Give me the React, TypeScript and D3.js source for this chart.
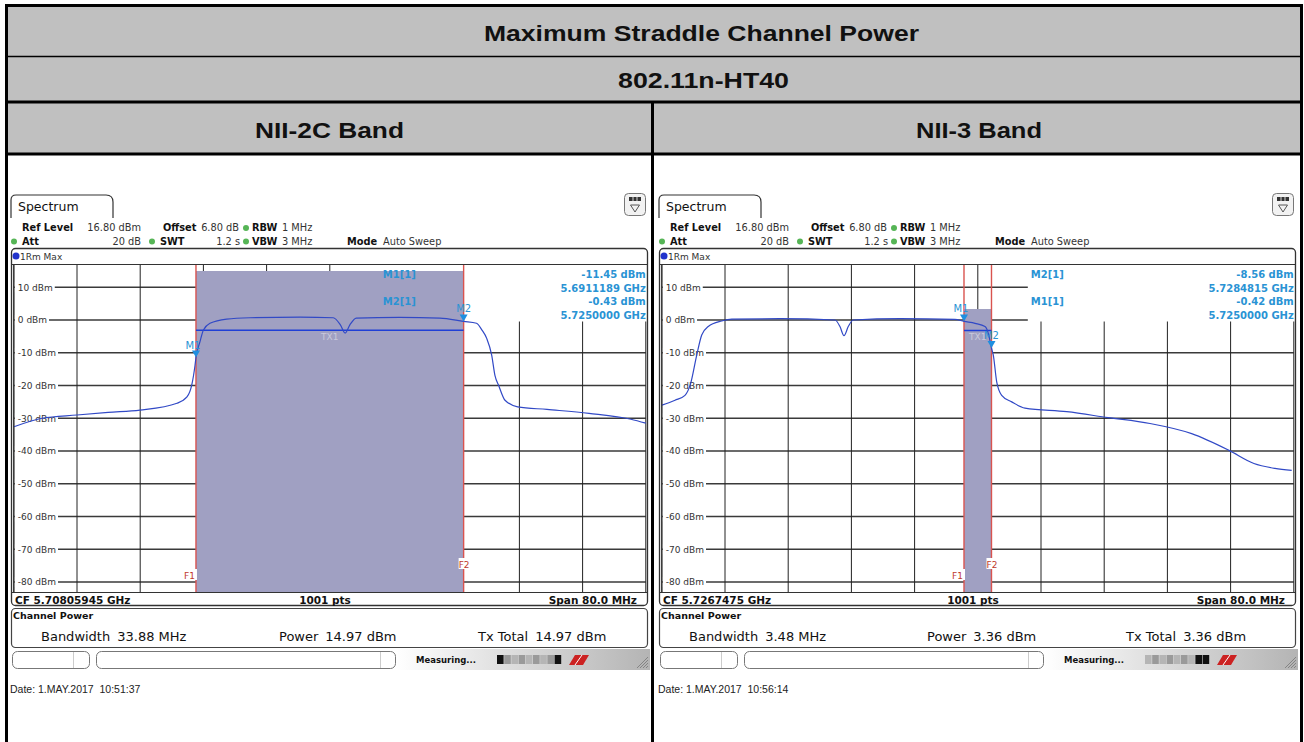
import React from 'react';
import * as d3 from 'd3';

// ---------- data ----------
const yTicks = [10, 0, -10, -20, -30, -40, -50, -60, -70, -80];
const refLevel = 16.8;
const bottomLevel = -83.2;
const spanMHz = 80;

const leftFreq = [5668.08, 5671.63, 5676.06, 5680.0, 5684.03, 5688.72, 5689.98, 5690.58, 5691.0, 5691.12, 5691.63, 5692.05, 5692.89, 5695.0, 5697.96, 5704.3, 5708.5, 5709.4, 5710.0, 5710.6, 5711.4, 5716.9, 5722.0, 5725.0, 5726.63, 5727.3, 5727.92, 5728.55, 5728.97, 5729.44, 5730.24, 5731.84, 5735.55, 5740.87, 5746.18, 5748.06];
const leftLevel = [-32.6, -30.0, -29.0, -28.2, -27.5, -25.4, -23.5, -19.9, -13.8, -11.45, -6.6, -3.1, -1.0, 0.3, 0.7, 0.9, 0.7, -1.5, -4.0, -1.5, 0.6, 0.8, 0.6, -0.43, -1.0, -3.0, -5.6, -10.7, -17, -20, -24.5, -26.5, -27.3, -28.5, -30.3, -31.5];

const rightFreq = [5686.75, 5688.42, 5689.68, 5690.38, 5691.17, 5691.8, 5692.63, 5694.33, 5695.6, 5701.71, 5708.67, 5709.3, 5709.81, 5710.35, 5710.98, 5716.9, 5723.86, 5725.0, 5726.4, 5727.66, 5728.07, 5728.48, 5728.71, 5729.14, 5729.77, 5731.04, 5732.72, 5738.0, 5743.23, 5748.54, 5753.82, 5758.54, 5761.7, 5764.36, 5766.48];
const rightLevel = [-26, -24.5, -23, -19.5, -10.7, -4.6, -2, -0.3, 0.3, 0.4, 0, -2, -4.8, -2, 0, 0.4, 0.2, -0.42, -1.0, -2.0, -4.0, -8.56, -10.7, -18.9, -23, -25, -26.9, -28, -29.8, -31.6, -34.7, -39.8, -43.8, -45.3, -45.9];

const leftMarkers = [
  { name: 'M1', f: 5691.1189, v: -11.45 },
  { name: 'M2', f: 5725.0, v: -0.43 },
];
const rightMarkers = [
  { name: 'M1', f: 5725.0, v: -0.42 },
  { name: 'M2', f: 5728.4815, v: -8.56 },
];
const leftInfoOrder = ['M1', 'M2'];
const rightInfoOrder = ['M2', 'M1'];

const titles = ['Maximum Straddle Channel Power', '802.11n-HT40'];
const bandTitles = ['NII-2C Band', 'NII-3 Band'];

const leftCfg = {
  offset: 0,
  cf: 5708.05945,
  cfText: 'CF 5.70805945 GHz',
  f1: 5691.1189,
  f2: 5725.0,
  power: 14.97,
  tx1: -3.1,
  markers: leftMarkers,
  infoOrder: leftInfoOrder,
  freq: leftFreq,
  level: leftLevel,
  bandwidth: '33.88 MHz',
  powerText: '14.97 dBm',
  txTotal: '14.97 dBm',
  date: 'Date: 1.MAY.2017  10:51:37',
  progress: [1, 0, 0, 0, 0, 0, 0, 0, 1],
};
const rightCfg = {
  offset: 648,
  cf: 5726.7475,
  cfText: 'CF 5.7267475 GHz',
  f1: 5725.0,
  f2: 5728.48,
  power: 3.36,
  tx1: -3.2,
  markers: rightMarkers,
  infoOrder: rightInfoOrder,
  freq: rightFreq,
  level: rightLevel,
  bandwidth: '3.48 MHz',
  powerText: '3.36 dBm',
  txTotal: '3.36 dBm',
  date: 'Date: 1.MAY.2017  10:56:14',
  progress: [0, 0, 0, 0, 0, 0, 0, 1, 1],
};

const SF = 'DejaVu Sans, Verdana, sans-serif';
const AF = 'Liberation Sans, Arial, sans-serif';
const MK = '#2a93d4';

const cw: Record<string, number> = { '0': .636, '1': .636, '2': .636, '3': .636, '4': .636, '5': .636, '6': .636, '7': .636, '8': .636, '9': .636, '-': .361, ' ': .318, d: .635, B: .686, m: .974 };
const textW = (s: string, fs: number) => s.split('').reduce((a, c) => a + (cw[c] || .6), 0) * fs;

function Panel({ cfg }: { cfg: typeof leftCfg }) {
  const ox = cfg.offset;
  const gx0 = 13.8 + ox, gx1 = 645.8 + ox;
  const gy0 = 265, gy1 = 592.5;
  const fStart = cfg.cf - spanMHz / 2;
  const x = d3.scaleLinear().domain([fStart, fStart + spanMHz]).range([gx0, gx1]);
  const y = d3.scaleLinear().domain([refLevel, bottomLevel]).range([gy0, gy1]);
  const vgrid = d3.range(0, 11).map(i => fStart + (i * spanMHz) / 10);
  const pts: [number, number][] = cfg.freq.map((f, i) => [f, cfg.level[i]]);
  const line = d3.line<[number, number]>().x(d => x(d[0])).y(d => y(d[1])).curve(d3.curveMonotoneX);
  const boxX = gx0 + 366;
  const xf1 = x(cfg.f1), xf2 = x(cfg.f2);
  const rowsY = [277.5, 291.5, 305, 319];
  const gid = `sbg${ox}`;

  return (
    <g>
      <defs>
        <linearGradient id={gid} x1="0" x2="1" y1="0" y2="0">
          <stop offset="0" stopColor="#ffffff" />
          <stop offset="1" stopColor="#b4b4b4" />
        </linearGradient>
      </defs>
      {/* tab */}
      <path d={`M${11 + ox},218 L${11 + ox},200 Q${11 + ox},195 ${16 + ox},195 L${106 + ox},195 Q${113 + ox},195 ${113 + ox},202 L${113 + ox},218`} fill="#fff" stroke="#333" strokeWidth={1.2} />
      <text x={18 + ox} y={211} fontFamily={SF} fontSize={12.5} fill="#111">Spectrum</text>
      {/* icon */}
      <rect x={624.5 + ox} y={193.5} width={21} height={22} rx={4} fill="#f2f2f2" stroke="#777" />
      <rect x={629 + ox} y={197} width={12} height={4} fill="#333" />
      <line x1={633 + ox} x2={633 + ox} y1={197} y2={201} stroke="#fff" strokeWidth={0.8} />
      <line x1={637 + ox} x2={637 + ox} y1={197} y2={201} stroke="#fff" strokeWidth={0.8} />
      <path d={`M${630.5 + ox},205 L${639.5 + ox},205 L${635 + ox},212 Z`} fill="none" stroke="#555" strokeWidth={1} />
      {/* settings */}
      <g fontFamily={SF} fontSize={9.8} fill="#333">
        <text x={22 + ox} y={231} fontWeight="bold" fill="#111">Ref Level</text>
        <text x={141 + ox} y={231} textAnchor="end">16.80 dBm</text>
        <text x={163 + ox} y={231} fontWeight="bold" fill="#111">Offset</text>
        <text x={239 + ox} y={231} textAnchor="end">6.80 dB</text>
        <circle cx={246 + ox} cy={228} r={3} fill="#56b556" />
        <text x={252 + ox} y={231} fontWeight="bold" fill="#111">RBW</text>
        <text x={282 + ox} y={231}>1 MHz</text>
        <circle cx={14 + ox} cy={241.5} r={3} fill="#56b556" />
        <text x={22 + ox} y={245} fontWeight="bold" fill="#111">Att</text>
        <text x={141 + ox} y={245} textAnchor="end">20 dB</text>
        <circle cx={152 + ox} cy={241.5} r={3} fill="#56b556" />
        <text x={160 + ox} y={245} fontWeight="bold" fill="#111">SWT</text>
        <text x={240 + ox} y={245} textAnchor="end">1.2 s</text>
        <circle cx={246 + ox} cy={241.5} r={3} fill="#56b556" />
        <text x={252 + ox} y={245} fontWeight="bold" fill="#111">VBW</text>
        <text x={282 + ox} y={245}>3 MHz</text>
        <text x={347 + ox} y={245} fontWeight="bold" fill="#111">Mode</text>
        <text x={383 + ox} y={245}>Auto Sweep</text>
      </g>
      {/* frame background */}
      <rect x={11.5 + ox} y={248.5} width={636} height={357} rx={4} fill="#fff" />
      <circle cx={16 + ox} cy={256} r={3.5} fill="#2233cc" />
      <text x={20 + ox} y={259.5} fontFamily={SF} fontSize={9} fill="#333">1Rm Max</text>
      {/* grid */}
      {yTicks.map(t => (
        <line key={`h${t}`} x1={gx0} x2={gx1} y1={y(t)} y2={y(t)} stroke="#3a3a3a" strokeWidth={1.3} />
      ))}
      {vgrid.map((f, i) => (
        <line key={`v${i}`} x1={x(f)} x2={x(f)} y1={gy0} y2={gy1} stroke="#222" strokeWidth={1} />
      ))}
      {/* marker info box */}
      <rect x={boxX} y={gy0} width={gx1 - boxX + 1} height={56.5} fill="#fff" />
      {/* channel shade */}
      <rect x={xf1} y={y(cfg.power)} width={xf2 - xf1} height={gy1 - y(cfg.power)} fill="#a0a0c2" />
      <line x1={xf1} x2={xf1} y1={gy0} y2={gy1} stroke="#d9534f" strokeWidth={1.4} />
      <line x1={xf2} x2={xf2} y1={gy0} y2={gy1} stroke="#d9534f" strokeWidth={1.4} />
      {/* y labels */}
      {yTicks.map(t => {
        const s = `${t} dBm`;
        const w = textW(s, 9);
        return (
          <g key={`l${t}`}>
            <rect x={gx0 + 1} y={y(t) - 5} width={w + 5} height={10} fill="#fff" />
            <text x={gx0 + 4} y={y(t) + 3.3} fontFamily={SF} fontSize={9} fill="#333">{s}</text>
          </g>
        );
      })}
      {/* TX1 level line */}
      <line x1={xf1} x2={xf2} y1={y(cfg.tx1)} y2={y(cfg.tx1)} stroke="#1f3fd6" strokeWidth={1.5} />
      <text x={(xf1 + xf2) / 2} y={340} textAnchor="middle" fontFamily={SF} fontSize={9} fill="#c9c9dc">TX1</text>
      {/* trace */}
      <path d={line(pts) || ''} fill="none" stroke="#3149c6" strokeWidth={1.2} />
      {/* markers */}
      {cfg.markers.map(m => {
        const mx = x(m.f), my = y(m.v);
        return (
          <g key={m.name}>
            <path d={`M${mx - 4},${my - 7} L${mx + 4},${my - 7} L${mx},${my} Z`} fill="#1f8fe0" />
            <text x={mx + (m.name === 'M1' ? -3 : 0)} y={my - 9} textAnchor="middle" fontFamily={SF} fontSize={10} fill={MK}>{m.name}</text>
          </g>
        );
      })}
      {/* F labels */}
      <rect x={xf1 - 10} y={569} width={11} height={11} fill="#fff" />
      <text x={xf1 - 1} y={578.5} textAnchor="end" fontFamily={SF} fontSize={9} fill="#c0392b">F1</text>
      <rect x={xf2 - 5} y={558} width={11} height={11} fill="#fff" />
      <text x={xf2 + 0.5} y={567.5} textAnchor="middle" fontFamily={SF} fontSize={9} fill="#c0392b">F2</text>
      {/* marker info text */}
      <g fontFamily={SF} fontSize={10} fontWeight="bold" fill={MK}>
        {cfg.infoOrder.map((nm, k) => {
          const m = cfg.markers.find(d => d.name === nm)!;
          return (
            <g key={nm}>
              <text x={boxX + 3} y={rowsY[k * 2]}>{`${m.name}[1]`}</text>
              <text x={gx1} y={rowsY[k * 2]} textAnchor="end">{`${m.v.toFixed(2)} dBm`}</text>
              <text x={gx1} y={rowsY[k * 2 + 1]} textAnchor="end">{`${(m.f / 1000).toFixed(7)} GHz`}</text>
            </g>
          );
        })}
      </g>
      {/* frame lines */}
      <line x1={11.5 + ox} x2={647.5 + ox} y1={264.5} y2={264.5} stroke="#333" strokeWidth={1.2} />
      <line x1={11.5 + ox} x2={647.5 + ox} y1={gy1} y2={gy1} stroke="#333" strokeWidth={1.2} />
      <line x1={gx0} x2={gx0} y1={gy0} y2={gy1} stroke="#333" strokeWidth={1.2} />
      <rect x={11.5 + ox} y={248.5} width={636} height={357} rx={4} fill="none" stroke="#333" strokeWidth={1.3} />
      {/* CF row */}
      <g fontFamily={SF} fontSize={10.5} fontWeight="bold" fill="#111">
        <text x={15 + ox} y={603.5}>{cfg.cfText}</text>
        <text x={325 + ox} y={603.5} textAnchor="middle">1001 pts</text>
        <text x={637 + ox} y={603.5} textAnchor="end">Span 80.0 MHz</text>
      </g>
      {/* channel power box */}
      <rect x={11.5 + ox} y={608.5} width={636} height={39} rx={4} fill="#fff" stroke="#444" strokeWidth={1.2} />
      <text x={13 + ox} y={619} fontFamily={SF} fontSize={9.5} fontWeight="bold" fill="#111">Channel Power</text>
      <g fontFamily={SF} fontSize={13} fill="#111">
        <text x={41 + ox} y={641}>Bandwidth<tspan dx={7}>{cfg.bandwidth}</tspan></text>
        <text x={279 + ox} y={641}>Power<tspan dx={7}>{cfg.powerText}</tspan></text>
        <text x={478 + ox} y={641}>Tx Total<tspan dx={7}>{cfg.txTotal}</tspan></text>
      </g>
      {/* status bar */}
      <rect x={396 + ox} y={649} width={254} height={21} fill={`url(#${gid})`} />
      <rect x={12.5 + ox} y={651.5} width={77} height={17} rx={5} fill="#fff" stroke="#777" />
      <line x1={73.5 + ox} x2={73.5 + ox} y1={652} y2={668} stroke="#ccc" />
      <rect x={96.5 + ox} y={651.5} width={299} height={17} rx={5} fill="#fff" stroke="#777" />
      <line x1={380.5 + ox} x2={380.5 + ox} y1={652} y2={668} stroke="#ccc" />
      <text x={416 + ox} y={663} fontFamily={SF} fontSize={8.5} fontWeight="bold" fill="#111">Measuring...</text>
      {cfg.progress.map((p, i) => (
        <rect key={`p${i}`} x={497 + ox + i * 7.2} y={655} width={6.6} height={9} fill={p ? '#111' : (i % 2 ? '#9a9a9a' : '#b5b5b5')} />
      ))}
      <path d={`M${569 + ox},665 L${575 + ox},655 L${589 + ox},655 L${583 + ox},665 Z`} fill="#cc2222" />
      <line x1={575 + ox} x2={582 + ox} y1={665} y2={655} stroke="#fff" strokeWidth={1} />
      {[0, 1, 2, 3].map(i => (
        <line key={`g${i}`} x1={637 + ox + i * 3} x2={648 + ox} y1={668} y2={657 + i * 3} stroke="#777" strokeWidth={0.8} />
      ))}
      {/* date */}
      <text x={10 + ox} y={692.5} fontFamily={AF} fontSize={10.5} fill="#222" style={{ whiteSpace: 'pre' }}>{cfg.date}</text>
    </g>
  );
}

export default function App() {
  return (
    <svg width={1304} height={742} viewBox="0 0 1304 742" style={{ position: 'absolute', left: 0, top: 0, background: '#fff' }}>
      {/* table header */}
      <rect x={8} y={7} width={1292} height={147} fill="#c0c0c0" />
      <g fontFamily={AF} fontWeight="bold" fontSize={22} fill="#111" textAnchor="middle">
        <text x={701.5} y={41} textLength={435} lengthAdjust="spacingAndGlyphs">{titles[0]}</text>
        <text x={703.5} y={88} textLength={171} lengthAdjust="spacingAndGlyphs">{titles[1]}</text>
        <text x={329.5} y={138} textLength={149} lengthAdjust="spacingAndGlyphs">{bandTitles[0]}</text>
        <text x={979} y={138} textLength={126} lengthAdjust="spacingAndGlyphs">{bandTitles[1]}</text>
      </g>
      <line x1={8} x2={1300} y1={56.5} y2={56.5} stroke="#000" strokeWidth={1.5} />
      <line x1={8} x2={1300} y1={102} y2={102} stroke="#000" strokeWidth={3} />
      <line x1={8} x2={1300} y1={154} y2={154} stroke="#000" strokeWidth={3} />
      <line x1={652.5} x2={652.5} y1={102} y2={742} stroke="#000" strokeWidth={3} />
      <line x1={6.5} x2={6.5} y1={4} y2={742} stroke="#000" strokeWidth={3} />
      <line x1={1301.5} x2={1301.5} y1={4} y2={742} stroke="#000" strokeWidth={3} />
      <line x1={5} x2={1303} y1={5.5} y2={5.5} stroke="#000" strokeWidth={3} />
      <Panel cfg={leftCfg} />
      <Panel cfg={rightCfg} />
    </svg>
  );
}
